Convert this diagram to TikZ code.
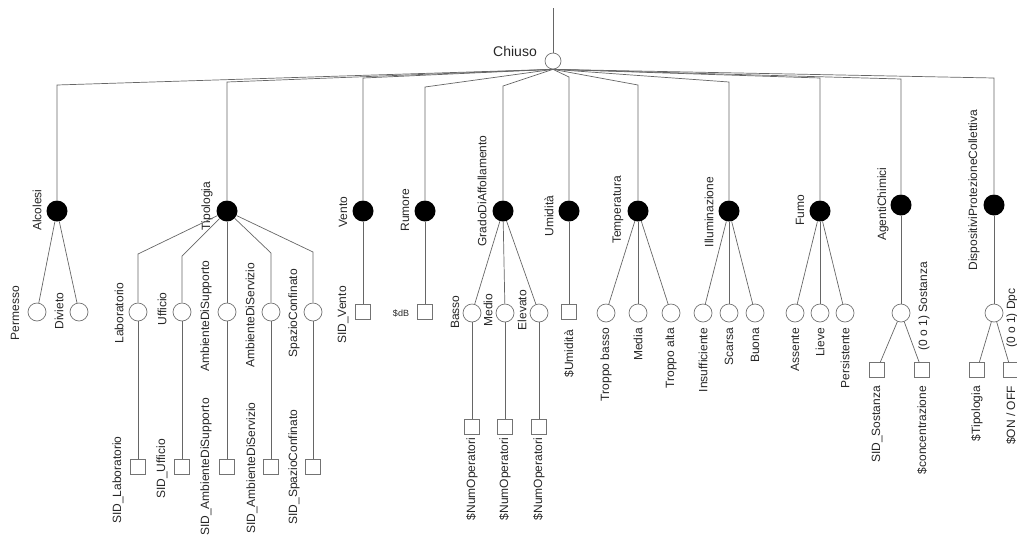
\documentclass[tikz,border=0pt]{standalone}
\usepackage{fontspec}
\setmainfont{Liberation Sans}
\begin{document}
\begin{tikzpicture}[x=1pt,y=-1pt,
  wire/.style={draw=black!60, line width=0.7pt},
  val/.style={circle, draw=black!55, fill=white, line width=0.7pt, minimum size=18pt, inner sep=0pt},
  attr/.style={circle, fill=black, minimum size=21pt, inner sep=0pt},
  leaf/.style={rectangle, draw=black!55, fill=white, line width=0.7pt, minimum size=15pt, inner sep=0pt},
  lbl/.style={font=\fontsize{12}{14}\selectfont, text=black!85, inner sep=0pt},
  vlbl/.style={lbl, rotate=90},
  dlbl/.style={vlbl, anchor=east},
]
\useasboundingbox (0,0) rectangle (1017,539);

% root
\node[val, minimum size=16pt] (chiuso) at (553,61) {};
\coordinate (rootin) at (553,8);
\draw[wire] (rootin) -- (chiuso);
\node[lbl, font=\fontsize{14}{16}\selectfont] (chiusoL) at (515,51) {Chiuso};

% attributes
\node[attr] (alc) at (57,211) {};
\node[attr] (tip) at (227,211) {};
\node[attr] (ven) at (363,211) {};
\node[attr] (rum) at (425,211) {};
\node[attr] (gra) at (503,211) {};
\node[attr] (umi) at (569,211) {};
\node[attr] (tem) at (638,211) {};
\node[attr] (ill) at (729,211) {};
\node[attr] (fum) at (820,211) {};
\node[attr] (age) at (901,205) {};
\node[attr] (dis) at (994,205) {};

\coordinate (kalc) at (57,85);
\coordinate (ktip) at (227,82);
\coordinate (kven) at (363,78);
\coordinate (krum) at (425,87);
\coordinate (kgra) at (503,86);
\coordinate (kumi) at (569,77);
\coordinate (ktem) at (638,85);
\coordinate (kill) at (729,82);
\coordinate (kfum) at (820,78);
\coordinate (kage) at (901,79);
\coordinate (kdis) at (994,78);

\foreach \n in {alc,tip,ven,rum,gra,umi,tem,ill,fum,age,dis}
  \draw[wire] (chiuso.south) -- (k\n) -- (\n);

\node[vlbl] (alcL) at (37,210) {Alcolesi};
\node[vlbl] (tipL) at (207,206) {Tipologia};
\node[vlbl] (venL) at (343,212) {Vento};
\node[vlbl] (rumL) at (405,210) {Rumore};
\node[vlbl] (graL) at (482,191) {GradoDiAffollamento};
\node[vlbl] (umiL) at (549,216) {Umidità};
\node[vlbl] (temL) at (618,210) {Temperatura};
\node[vlbl] (illL) at (709,212) {Illuminazione};
\node[vlbl] (fumL) at (800,210) {Fumo};
\node[vlbl] (ageL) at (883,204) {AgentiChimici};
\node[vlbl] (disL) at (974,190) {DispositiviProtezioneCollettiva};

% Alcolesi
\node[val] (perm) at (37,312) {};
\node[val] (div) at (79,312) {};
\draw[wire] (alc) -- (perm);
\draw[wire] (alc) -- (div);
\node[vlbl] (permL) at (15,313) {Permesso};
\node[vlbl] (divL) at (59,311) {Divieto};

% Tipologia
\node[val] (lab) at (138,312) {};
\node[val] (uff) at (182,312) {};
\node[val] (sup) at (227,312) {};
\node[val] (ser) at (271,312) {};
\node[val] (spa) at (313,312) {};
\coordinate (tb1) at (138,254);
\coordinate (tb2) at (182,256);
\coordinate (tb4) at (271,253);
\coordinate (tb5) at (313,252);
\draw[wire] (tip) -- (tb1) -- (lab);
\draw[wire] (tip) -- (tb2) -- (uff);
\draw[wire] (tip) -- (sup);
\draw[wire] (tip) -- (tb4) -- (ser);
\draw[wire] (tip) -- (tb5) -- (spa);
\node[vlbl] (labL) at (119,313) {Laboratorio};
\node[vlbl] (uffL) at (162,309) {Ufficio};
\node[vlbl] (supL) at (206,316) {AmbienteDiSupporto};
\node[vlbl] (serL) at (250,315) {AmbienteDiServizio};
\node[vlbl] (spaL) at (294,313) {SpazioConfinato};

\node[leaf] (slab) at (138,467) {};
\node[leaf] (suff) at (182,467) {};
\node[leaf] (ssup) at (227,467) {};
\node[leaf] (sser) at (271,467) {};
\node[leaf] (sspa) at (313,467) {};
\draw[wire] (lab) -- (slab);
\draw[wire] (uff) -- (suff);
\draw[wire] (sup) -- (ssup);
\draw[wire] (ser) -- (sser);
\draw[wire] (spa) -- (sspa);
\node[vlbl] (slabL) at (118,480) {SID\_Laboratorio};
\node[vlbl] (suffL) at (162,469) {SID\_Ufficio};
\node[vlbl] (ssupL) at (206,467) {SID\_AmbienteDiSupporto};
\node[vlbl] (sserL) at (252,468) {SID\_AmbienteDiServizio};
\node[vlbl] (sspaL) at (294,467) {SID\_SpazioConfinato};

% Vento
\node[leaf] (sven) at (363,312) {};
\draw[wire] (ven) -- (sven);
\node[vlbl] (svenL) at (343,315) {SID\_Vento};

% Rumore
\node[leaf] (srum) at (425,312) {};
\draw[wire] (rum) -- (srum);
\node[lbl, font=\fontsize{9}{11}\selectfont] (srumL) at (401,313) {\$dB};

% GradoDiAffollamento
\node[val] (bas) at (472,313) {};
\node[val] (med) at (505,313) {};
\node[val] (ele) at (539,313) {};
\draw[wire] (gra) -- (bas);
\draw[wire] (gra) -- (med);
\draw[wire] (gra) -- (ele);
\node[vlbl] (basL) at (455,312) {Basso};
\node[vlbl] (medL) at (488,310) {Medio};
\node[vlbl] (eleL) at (522,310) {Elevato};
\node[leaf] (sbas) at (472,427) {};
\node[leaf] (smed) at (505,427) {};
\node[leaf] (sele) at (539,427) {};
\draw[wire] (bas) -- (sbas);
\draw[wire] (med) -- (smed);
\draw[wire] (ele) -- (sele);
\node[dlbl] (sbasL) at (472,438) {\$NumOperatori};
\node[dlbl] (smedL) at (505,438) {\$NumOperatori};
\node[dlbl] (seleL) at (539,438) {\$NumOperatori};

% Umidita
\node[leaf] (sumi) at (569,312) {};
\draw[wire] (umi) -- (sumi);
\node[dlbl] (sumiL) at (569,330) {\$Umidità};

% Temperatura
\node[val] (tbas) at (606,313) {};
\node[val] (tmed) at (638,313) {};
\node[val] (talt) at (671,313) {};
\draw[wire] (tem) -- (tbas);
\draw[wire] (tem) -- (tmed);
\draw[wire] (tem) -- (talt);
\node[dlbl] (tbasL) at (606,328) {Troppo basso};
\node[dlbl] (tmedL) at (638,328) {Media};
\node[dlbl] (taltL) at (671,328) {Troppo alta};

% Illuminazione
\node[val] (iins) at (703,313) {};
\node[val] (isca) at (729,313) {};
\node[val] (ibuo) at (755,313) {};
\draw[wire] (ill) -- (iins);
\draw[wire] (ill) -- (isca);
\draw[wire] (ill) -- (ibuo);
\node[dlbl] (iinsL) at (703,328) {Insufficiente};
\node[dlbl] (iscaL) at (729,328) {Scarsa};
\node[dlbl] (ibuoL) at (755,328) {Buona};

% Fumo
\node[val] (fass) at (795,313) {};
\node[val] (flie) at (820,313) {};
\node[val] (fper) at (845,313) {};
\draw[wire] (fum) -- (fass);
\draw[wire] (fum) -- (flie);
\draw[wire] (fum) -- (fper);
\node[dlbl] (fassL) at (795,328) {Assente};
\node[dlbl] (flieL) at (820,328) {Lieve};
\node[dlbl] (fperL) at (845,328) {Persistente};

% AgentiChimici
\node[val] (ags) at (901,313) {};
\draw[wire] (age) -- (ags);
\node[vlbl] (agsL) at (924,306) {(0 o 1) Sostanza};
\node[leaf] (asid) at (877,370) {};
\node[leaf] (acon) at (922,370) {};
\draw[wire] (ags) -- (asid);
\draw[wire] (ags) -- (acon);
\node[dlbl] (asidL) at (877,386) {SID\_Sostanza};
\node[dlbl] (aconL) at (922,386) {\$concentrazione};

% DispositiviProtezioneCollettiva
\node[val] (dps) at (994,313) {};
\draw[wire] (dis) -- (dps);
\node[vlbl] (dpsL) at (1012,318) {(0 o 1) Dpc};
\node[leaf] (dtip) at (977,370) {};
\node[leaf] (don) at (1011,370) {};
\draw[wire] (dps) -- (dtip);
\draw[wire] (dps) -- (don);
\node[dlbl] (dtipL) at (977,386) {\$Tipologia};
\node[dlbl] (donL) at (1011,386) {\$ON / OFF};
\end{tikzpicture}
\end{document}
